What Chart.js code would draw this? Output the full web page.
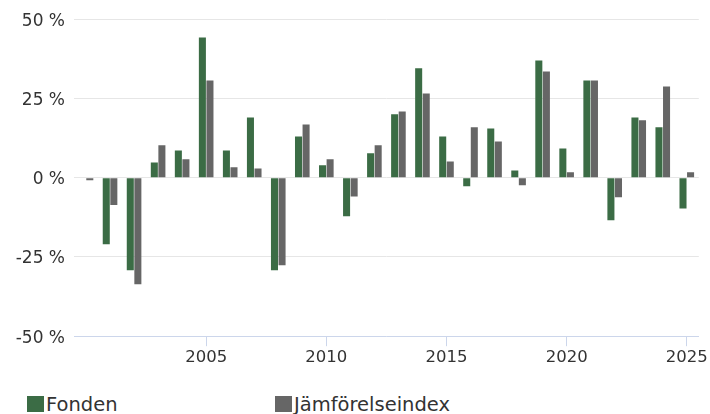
<!DOCTYPE html>
<html>
<head>
<meta charset="utf-8">
<script src="https://cdn.jsdelivr.net/npm/chart.js@4.4.1/dist/chart.umd.min.js"></script>
<style>
  html, body { margin: 0; padding: 0; background: #fff; }
  #wrap { position: relative; width: 710px; height: 414px; font-family: "DejaVu Sans", Verdana, sans-serif; }
  #chart { position: absolute; left: 0; top: 0; }
  .legend-item { position: absolute; top: 396px; height: 17px; font-size: 19.5px; color: #333; line-height: 17px; white-space: nowrap; }
  .legend-item span.box { display: inline-block; width: 17px; height: 16px; vertical-align: top; margin-right: 2px; }
</style>
</head>
<body>
<div id="wrap">
  <canvas id="chart" width="710" height="370"></canvas>
  <div id="legend"></div>
</div>
<script>
// Years on the x axis
const years = [2000, 2001, 2002, 2003, 2004, 2005, 2006, 2007, 2008, 2009, 2010, 2011, 2012,
               2013, 2014, 2015, 2016, 2017, 2018, 2019, 2020, 2021, 2022, 2023, 2024, 2025];

// Yearly return of the fund, in percent
const fonden = [null, -21.0, -29.2, 4.8, 8.6, 44.2, 8.6, 19.0, -29.2, 13.0, 3.9, -12.2, 7.7,
                20.0, 34.5, 13.0, -2.7, 15.5, 2.3, 37.0, 9.2, 30.7, -13.4, 19.0, 15.9, -9.7];

// Yearly return of the benchmark index, in percent
const jamforelseindex = [-0.8, -8.6, -33.6, 10.2, 5.8, 30.7, 3.3, 2.9, -27.6, 16.8, 5.8, -5.9, 10.2,
                         20.9, 26.6, 5.1, 15.9, 11.4, -2.4, 33.5, 1.7, 30.7, -6.2, 18.1, 28.8, 1.7];

// Y axis ticks
const yTicks = [-50, -25, 0, 25, 50];

// x labels only every fifth year (not the first one)
const labelled = y => y % 5 === 0 && y > years[0];

const seriesNames = ['Fonden', 'Jämförelseindex'];
const seriesColors = ['#3b6c45', '#666666'];

const fontFamily = '"DejaVu Sans", Verdana, sans-serif';

const ctx = document.getElementById('chart').getContext('2d');

new Chart(ctx, {
    type: 'bar',
    data: {
        labels: years,
        datasets: [
            {
                label: seriesNames[0],
                data: fonden,
                backgroundColor: seriesColors[0],
                categoryPercentage: 0.63,
                barPercentage: 0.93
            },
            {
                label: seriesNames[1],
                data: jamforelseindex,
                backgroundColor: seriesColors[1],
                categoryPercentage: 0.63,
                barPercentage: 0.93
            }
        ]
    },
    options: {
        responsive: false,
        animation: false,
        layout: {
            padding: { left: 0, right: 11, top: 10, bottom: 0 }
        },
        plugins: {
            legend: { display: false },
            tooltip: { enabled: false }
        },
        scales: {
            x: {
                offset: true,
                grid: {
                    offset: false,
                    drawOnChartArea: false,
                    drawTicks: true,
                    tickLength: 10,
                    color: c => (labelled(years[c.index]) ? '#ccd6eb' : 'rgba(0,0,0,0)')
                },
                border: { display: true, color: '#ccd6eb', width: 1 },
                ticks: {
                    autoSkip: false,
                    maxRotation: 0,
                    padding: 2,
                    color: '#333333',
                    font: { family: fontFamily, size: 16.5 },
                    callback: (val, i) => (labelled(years[i]) ? String(years[i]) : '')
                }
            },
            y: {
                min: -50,
                max: 50,
                afterBuildTicks: scale => {
                    scale.ticks = yTicks.map(v => ({ value: v }));
                },
                afterFit: scale => {
                    scale.width = 74;
                },
                grid: {
                    color: '#e6e6e6',
                    lineWidth: 1,
                    drawTicks: false
                },
                border: { display: false },
                ticks: {
                    padding: 9,
                    labelOffset: 2,
                    color: '#333333',
                    font: { family: fontFamily, size: 17 },
                    callback: v => v + ' %'
                }
            }
        }
    }
});

// Legend drawn as HTML below the chart
const legendEl = document.getElementById('legend');
const legendLeft = [27, 275];
seriesNames.forEach((name, i) => {
    const item = document.createElement('div');
    item.className = 'legend-item';
    item.style.left = legendLeft[i] + 'px';
    const box = document.createElement('span');
    box.className = 'box';
    box.style.background = seriesColors[i];
    item.appendChild(box);
    item.appendChild(document.createTextNode(name));
    legendEl.appendChild(item);
});
</script>
</body>
</html>
